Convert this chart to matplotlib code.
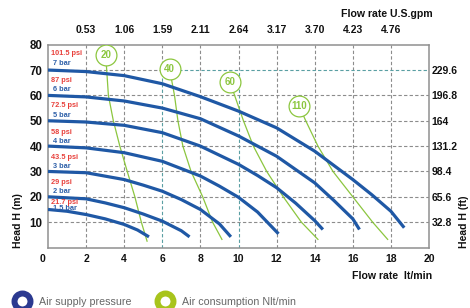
import matplotlib
matplotlib.use('Agg')
import matplotlib.pyplot as plt

plt.rcParams['font.family'] = ['Liberation Sans', 'DejaVu Sans']

# ---------------- data ----------------
flow_ticks = [2, 4, 6, 8, 10, 12, 14, 16, 18, 20]
head_ticks = [10, 20, 30, 40, 50, 60, 70, 80]
gpm_ticks = [2, 4, 6, 8, 10, 12, 14, 16, 18]
gpm_labels = ['0.53', '1.06', '1.59', '2.11', '2.64', '3.17', '3.70', '4.23', '4.76']
ft_ticks = [70, 60, 50, 40, 30, 20, 10]
ft_labels = ['229.6', '196.8', '164', '131.2', '98.4', '65.6', '32.8']

bar_labels = ['7 bar', '6 bar', '5 bar', '4 bar', '3 bar', '2 bar', '1.5 bar']
psi_labels = ['101.5 psi', '87 psi', '72.5 psi', '58 psi', '43.5 psi', '29 psi', '21.7 psi']

# pressure curves (flow l/min, head m)
p7_x = [0, 2, 4, 6, 8, 10, 12, 14, 16, 17, 18, 18.7]
p7_y = [70, 69.4, 67.8, 64.6, 59.5, 53.8, 47.2, 38.0, 26.8, 20.8, 14.3, 7.8]
p6_x = [0, 2, 4, 6, 8, 10, 12, 14, 15, 16, 16.35]
p6_y = [60, 59.4, 57.8, 55.0, 50.8, 44.0, 36.0, 25.5, 18.6, 11.3, 7.1]
p5_x = [0, 2, 4, 6, 8, 10, 11, 12, 13, 14, 14.43]
p5_y = [50, 49.5, 48.2, 45.3, 40.0, 32.8, 28.4, 23.6, 17.5, 10.6, 7.1]
p4_x = [0, 2, 4, 6, 8, 9, 10, 11, 12.1]
p4_y = [40, 39.3, 37.4, 34.0, 28.2, 24.2, 19.8, 14.0, 5.4]
p3_x = [0, 2, 4, 5, 6, 7, 8, 9, 9.6]
p3_y = [30, 29.5, 26.8, 24.6, 22.2, 18.9, 15.0, 9.3, 4.2]
p2_x = [0, 2, 3, 4, 5, 6, 7, 7.43]
p2_y = [20, 19.2, 17.6, 15.7, 13.2, 10.4, 6.6, 4.2]
p15_x = [0, 1, 2, 3, 4, 4.7, 5.3]
p15_y = [15, 14.3, 13.0, 11.3, 9.1, 6.9, 4.2]
curves_x = [p7_x, p6_x, p5_x, p4_x, p3_x, p2_x, p15_x]
curves_y = [p7_y, p6_y, p5_y, p4_y, p3_y, p2_y, p15_y]

# air consumption lines
air_labels = ['20', '40', '60', '110']
air_label_x = [3.03, 6.38, 9.55, 13.18]
air_label_y = [75.8, 70.5, 65.3, 55.8]
a20_x = [3.03, 3.17, 3.43, 3.77, 4.16, 4.56, 4.9, 5.2]
a20_y = [75.8, 60, 50, 40, 30, 20, 10, 2.5]
a40_x = [6.38, 6.64, 6.82, 7.08, 7.51, 8.12, 8.64, 9.13]
a40_y = [70.5, 60, 50, 40, 30, 20, 10, 3.2]
a60_x = [9.55, 10.26, 10.78, 11.48, 12.35, 13.3, 14.17]
a60_y = [65.3, 50, 40, 30, 20, 10, 3.2]
a110_x = [13.18, 13.53, 14.17, 14.96, 16.0, 17.04, 17.83]
a110_y = [55.8, 50, 40, 30, 20, 10, 3.2]
air_x = [a20_x, a40_x, a60_x, a110_x]
air_y = [a20_y, a40_y, a60_y, a110_y]

# ---------------- style ----------------
W, H = 470, 308
BLUE = '#1f58a5'
GREEN = '#8cc63f'
RED = '#e8413c'
GRID = '#8c8c8c'
TEAL = '#5a9fa3'
bold = dict(fontweight='bold', color='#111111')

fig = plt.figure(figsize=(W / 100, H / 100), dpi=100)
ax = fig.add_axes([48 / W, 1 - 247.5 / H, (429 - 48) / W, (247.5 - 44.7) / H])
ax.set_xlim(0, 20)
ax.set_ylim(0, 80)

# grid
for gx in [2, 4, 8, 12, 14, 16, 18]:
    ax.plot([gx, gx], [0, 80], color=GRID, lw=0.8, ls=(0, (3, 2)), zorder=1)
for gx in [6, 10]:
    ax.plot([gx, gx], [70, 80], color=GRID, lw=0.8, ls=(0, (3, 2)), zorder=1)
    ax.plot([gx, gx], [0, 70], color=TEAL, lw=0.8, ls=(0, (3, 2)), zorder=1)
for gy in [10, 20, 30, 40, 50, 60]:
    ax.plot([0, 20], [gy, gy], color=GRID, lw=0.8, ls=(0, (3, 2)), zorder=1)
ax.plot([0, 6], [70, 70], color=GRID, lw=0.8, ls=(0, (3, 2)), zorder=1)
ax.plot([6, 20], [70, 70], color=TEAL, lw=0.8, ls=(0, (3, 2)), zorder=1)

# air consumption lines
for xs, ys in zip(air_x, air_y):
    ax.plot(xs, ys, color=GREEN, lw=0.9, zorder=2)

# pressure curves
for xs, ys in zip(curves_x, curves_y):
    ax.plot(xs, ys, color=BLUE, lw=2.3, solid_capstyle='butt', zorder=3)

# air labels
for lx, ly, t in zip(air_label_x, air_label_y, air_labels):
    ax.plot([lx], [ly], marker='o', ms=15, mfc='white', mec=GREEN, mew=0.9, zorder=5)
    ax.text(lx, ly, t, color=GREEN, fontsize=7, fontweight='bold', ha='center',
            va='center', zorder=6)

# pressure labels
psi_y = [76.7, 66.0, 55.9, 45.2, 35.4, 25.7, 17.9]
bar_y = [72.4, 62.5, 52.2, 41.7, 31.8, 22.1, 15.4]
for t, yy in zip(psi_labels, psi_y):
    ax.text(0.15, yy, t, color=RED, fontsize=5.3, fontweight='bold', ha='left', va='center', zorder=7)
for t, yy in zip(bar_labels, bar_y):
    ax.text(0.25, yy, t, color='#2d5fa8', fontsize=5.3, fontweight='bold', ha='left', va='center', zorder=7)

# spines / ticks
for s in ax.spines.values():
    s.set_color('#909090')
    s.set_linewidth(1.1)
ax.set_xticks(flow_ticks)
ax.set_xticklabels([str(v) for v in flow_ticks], fontsize=7.5, **bold)
ax.set_yticks(head_ticks)
ax.set_yticklabels([str(v) for v in head_ticks], fontsize=8.3, **bold)
ax.tick_params(axis='x', length=0, pad=5)
ax.tick_params(axis='y', length=0, pad=4)
ax.text(-0.3, -0.03, '0', transform=ax.get_xaxis_transform(), ha='center', va='top',
        fontsize=7.5, **bold)

top = ax.secondary_xaxis('top', functions=(lambda v: v, lambda v: v))
top.set_xticks(gpm_ticks)
top.set_xticklabels(gpm_labels, fontsize=7.5, **bold)
top.tick_params(length=0, pad=7)
top.spines['top'].set_visible(False)

right = ax.secondary_yaxis('right', functions=(lambda v: v, lambda v: v))
right.set_yticks(ft_ticks)
right.set_yticklabels(ft_labels, fontsize=7.5, **bold)
right.tick_params(length=0, pad=2)
right.spines['right'].set_visible(False)

# axis titles
fig.text(433 / W, 1 - 14 / H, 'Flow rate U.S.gpm', ha='right', va='center', fontsize=7.6, **bold)
fig.text(432 / W, 1 - 276 / H, 'Flow rate  lt/min', ha='right', va='center', fontsize=7.6, **bold)
fig.text(18 / W, 1 - 248 / H, 'Head H (m)', rotation=90, ha='center', va='bottom', fontsize=7.5, **bold)
fig.text(464 / W, 1 - 248 / H, 'Head H (ft)', rotation=90, ha='center', va='bottom', fontsize=7.5, **bold)

# legend
lax = fig.add_axes([0, 0, 1, 1], facecolor='none')
lax.set_xlim(0, W)
lax.set_ylim(H, 0)
lax.axis('off')
lax.plot([22], [301], marker='o', ms=11.5, mfc='white', mec='#2b3990', mew=4.3)
lax.plot([165], [301], marker='o', ms=11.5, mfc='white', mec='#a8c41c', mew=4.3)
lax.text(39, 302, 'Air supply pressure', color='#666666', fontsize=7.7, ha='left', va='center')
lax.text(182, 302, 'Air consumption Nlt/min', color='#666666', fontsize=7.7, ha='left', va='center')

fig.savefig('out.png', dpi=100)
